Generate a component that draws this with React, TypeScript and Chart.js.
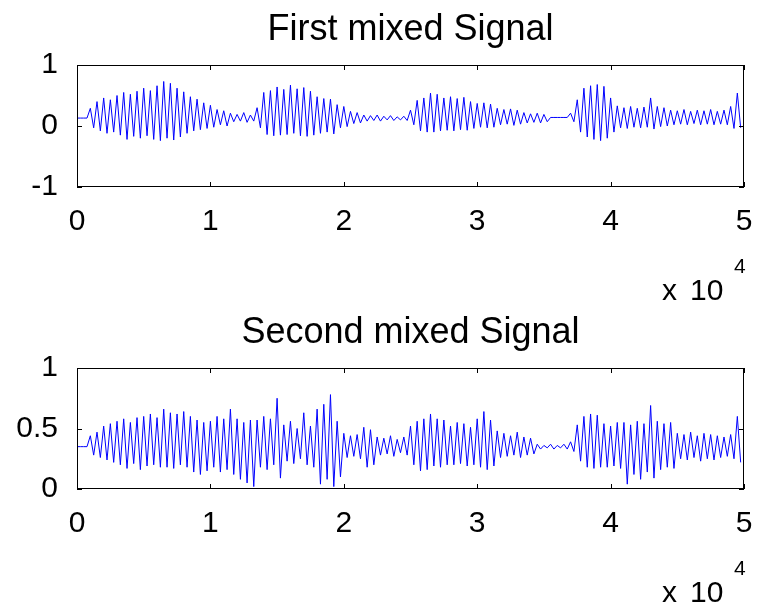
import React, { useEffect, useRef } from 'react';
import { Chart, registerables } from 'chart.js';

Chart.register(...registerables);

// ---- data ----
const sampleStep = 500; // samples between successive envelope readings
const xTickValues = [0, 10000, 20000, 30000, 40000, 50000];
const xExponentBase = 'x';
const xExponentTen = '10';
const xExponent = '4';

const title1 = 'First mixed Signal';
const y1Ticks = [-1, 0, 1];
const sig1High = [
  0.13, 0.13, 0.29, 0.40, 0.46, 0.43, 0.50, 0.55, 0.52, 0.57,
  0.62, 0.58, 0.66, 0.73, 0.70, 0.62, 0.56, 0.48, 0.44, 0.38,
  0.34, 0.27, 0.25, 0.21, 0.19, 0.22, 0.18, 0.30, 0.55, 0.58,
  0.64, 0.60, 0.67, 0.61, 0.63, 0.57, 0.48, 0.45, 0.44, 0.35,
  0.32, 0.24, 0.22, 0.18, 0.17, 0.18, 0.16, 0.17, 0.15, 0.16,
  0.26, 0.42, 0.46, 0.54, 0.52, 0.46, 0.48, 0.45, 0.47, 0.40,
  0.37, 0.38, 0.36, 0.29, 0.27, 0.28, 0.26, 0.22, 0.20, 0.21,
  0.19, 0.14, 0.14, 0.14, 0.21, 0.43, 0.62, 0.66, 0.68, 0.65,
  0.46, 0.33, 0.30, 0.32, 0.29, 0.31, 0.46, 0.32, 0.30, 0.26,
  0.25, 0.27, 0.24, 0.26, 0.25, 0.27, 0.24, 0.26, 0.32, 0.54,
];
const sig1Low = [
  0.13, 0.13, -0.03, -0.08, -0.12, -0.10, -0.15, -0.22, -0.17, -0.20,
  -0.16, -0.22, -0.24, -0.20, -0.23, -0.18, -0.12, -0.08, -0.06, -0.04,
  -0.02, 0.02, 0.00, 0.07, 0.08, 0.06, 0.08, -0.03, -0.14, -0.16,
  -0.15, -0.14, -0.12, -0.16, -0.17, -0.15, -0.12, -0.10, -0.13, -0.03,
  -0.01, 0.04, 0.05, 0.08, 0.09, 0.08, 0.10, 0.09, 0.10, 0.09,
  0.02, -0.08, -0.10, -0.10, -0.08, -0.07, -0.08, -0.06, -0.07, -0.04,
  -0.02, -0.03, -0.02, 0.02, 0.03, 0.01, 0.03, 0.05, 0.06, 0.05,
  0.07, 0.14, 0.14, 0.14, 0.07, -0.10, -0.18, -0.22, -0.24, -0.20,
  -0.10, -0.03, -0.04, -0.02, -0.03, -0.02, -0.05, -0.01, 0.00, 0.02,
  0.03, 0.02, 0.04, 0.02, 0.03, 0.02, 0.03, 0.02, -0.04, -0.03,
];

const title2 = 'Second mixed Signal';
const y2Ticks = [0, 0.5, 1];
const sig2High = [
  0.35, 0.35, 0.44, 0.47, 0.52, 0.54, 0.56, 0.58, 0.55, 0.59,
  0.60, 0.62, 0.59, 0.66, 0.63, 0.62, 0.64, 0.60, 0.57, 0.55,
  0.56, 0.60, 0.58, 0.66, 0.58, 0.55, 0.57, 0.57, 0.60, 0.58,
  0.75, 0.53, 0.56, 0.50, 0.63, 0.52, 0.66, 0.70, 0.78, 0.56,
  0.46, 0.44, 0.45, 0.51, 0.49, 0.43, 0.42, 0.44, 0.41, 0.43,
  0.52, 0.56, 0.58, 0.62, 0.58, 0.57, 0.52, 0.55, 0.54, 0.51,
  0.58, 0.64, 0.57, 0.48, 0.46, 0.44, 0.47, 0.43, 0.42, 0.37,
  0.36, 0.37, 0.36, 0.37, 0.39, 0.53, 0.60, 0.62, 0.61, 0.54,
  0.52, 0.55, 0.55, 0.53, 0.56, 0.54, 0.69, 0.56, 0.54, 0.55,
  0.46, 0.45, 0.47, 0.44, 0.46, 0.45, 0.44, 0.43, 0.45, 0.60,
];
const sig2Low = [
  0.35, 0.35, 0.28, 0.26, 0.24, 0.22, 0.20, 0.17, 0.21, 0.16,
  0.19, 0.20, 0.18, 0.18, 0.17, 0.20, 0.18, 0.14, 0.12, 0.15,
  0.18, 0.14, 0.16, 0.12, 0.08, 0.05, 0.02, 0.18, 0.16, 0.20,
  0.09, 0.23, 0.21, 0.25, 0.20, 0.18, 0.04, 0.08, 0.02, 0.10,
  0.26, 0.27, 0.25, 0.18, 0.20, 0.28, 0.29, 0.27, 0.30, 0.28,
  0.20, 0.15, 0.16, 0.19, 0.18, 0.20, 0.20, 0.21, 0.19, 0.20,
  0.18, 0.16, 0.19, 0.26, 0.27, 0.28, 0.26, 0.28, 0.29, 0.33,
  0.34, 0.33, 0.34, 0.33, 0.31, 0.23, 0.18, 0.17, 0.18, 0.18,
  0.19, 0.17, 0.04, 0.12, 0.08, 0.14, 0.09, 0.16, 0.18, 0.17,
  0.25, 0.24, 0.26, 0.23, 0.25, 0.24, 0.26, 0.27, 0.25, 0.22,
];

// ---- helpers ----
const FONT = '"Liberation Sans", Arial, Helvetica, sans-serif';

function buildPoints(high: number[], low: number[]) {
  const pts: { x: number; y: number }[] = [];
  for (let i = 0; i < high.length; i++) {
    pts.push({ x: i * sampleStep, y: high[i] });
    pts.push({ x: i * sampleStep + sampleStep / 2, y: low[i] });
  }
  return pts;
}

const matlabAxes = {
  id: 'matlabAxes',
  afterDatasetsDraw(chart: any, _args: any, opts: any) {
    const { ctx, chartArea: a, scales } = chart;
    const L = 5;
    ctx.save();
    ctx.strokeStyle = '#000';
    ctx.lineWidth = 1;
    ctx.strokeRect(Math.round(a.left) + 0.5, Math.round(a.top) + 0.5, Math.round(a.width) - 1, Math.round(a.height) - 1);
    ctx.beginPath();
    for (const v of xTickValues) {
      const px = Math.round(scales.x.getPixelForValue(v)) + 0.5;
      ctx.moveTo(px, a.bottom);
      ctx.lineTo(px, a.bottom - L);
      ctx.moveTo(px, a.top);
      ctx.lineTo(px, a.top + L);
    }
    for (const t of scales.y.ticks) {
      const py = Math.round(scales.y.getPixelForValue(t.value)) + 0.5;
      ctx.moveTo(a.left, py);
      ctx.lineTo(a.left + L, py);
      ctx.moveTo(a.right, py);
      ctx.lineTo(a.right - L, py);
    }
    ctx.stroke();

    ctx.fillStyle = '#000';
    ctx.textBaseline = 'alphabetic';
    // title
    ctx.textAlign = 'center';
    ctx.font = `36px ${FONT}`;
    ctx.fillText(opts.text, (a.left + a.right) / 2, a.top - 25);
    // exponent label
    ctx.textAlign = 'left';
    ctx.font = `30px ${FONT}`;
    const base = a.bottom + 113;
    ctx.fillText(xExponentBase, 662, base);
    ctx.fillText(xExponentTen, 690, base);
    ctx.font = `21px ${FONT}`;
    ctx.fillText(xExponent, 734, base - 27);
    ctx.restore();
  },
};

type Props = {
  title: string;
  high: number[];
  low: number[];
  yTicks: number[];
  top: number;
  height: number;
  areaTop: number;
  areaBottom: number;
};

function SignalPlot({ title, high, low, yTicks, top, height, areaTop, areaBottom }: Props) {
  const ref = useRef<HTMLCanvasElement>(null);
  useEffect(() => {
    if (!ref.current) return;
    const chart = new Chart(ref.current, {
      type: 'line',
      data: {
        datasets: [
          {
            data: buildPoints(high, low),
            borderColor: '#0000ff',
            borderWidth: 1,
            pointRadius: 0,
            tension: 0,
            fill: false,
          },
        ],
      },
      options: {
        animation: false,
        responsive: false,
        devicePixelRatio: 1,
        layout: { padding: { left: 0, right: 18, top: areaTop, bottom: 0 } },
        scales: {
          x: {
            type: 'linear',
            min: 0,
            max: 50000,
            afterBuildTicks: (s: any) => {
              s.ticks = xTickValues.map((v) => ({ value: v }));
            },
            afterFit: (s: any) => {
              s.height = height - areaBottom;
            },
            ticks: {
              callback: (v: any) => String(Number(v) / 10000),
              color: '#000',
              font: { family: FONT, size: 30 },
              padding: 9,
              maxRotation: 0,
              autoSkip: false,
            },
            grid: { display: false },
            border: { display: false },
          },
          y: {
            min: yTicks[0],
            max: yTicks[yTicks.length - 1],
            afterBuildTicks: (s: any) => {
              s.ticks = yTicks.map((v) => ({ value: v }));
            },
            afterFit: (s: any) => {
              s.width = 77;
            },
            ticks: {
              callback: (v: any) => String(v),
              color: '#000',
              font: { family: FONT, size: 30 },
              padding: 11,
              autoSkip: false,
            },
            grid: { display: false },
            border: { display: false },
          },
        },
        plugins: {
          legend: { display: false },
          tooltip: { enabled: false },
          title: { display: false },
          matlabAxes: { text: title },
        } as any,
      },
      plugins: [matlabAxes],
    });
    return () => chart.destroy();
  }, []);
  return (
    <canvas
      ref={ref}
      width={762}
      height={height}
      style={{ position: 'absolute', left: 0, top, width: 762, height }}
    />
  );
}

export default function App() {
  return (
    <div style={{ position: 'absolute', left: 0, top: 0, width: 762, height: 609, background: '#fff', overflow: 'hidden' }}>
      <SignalPlot title={title1} high={sig1High} low={sig1Low} yTicks={y1Ticks} top={0} height={305} areaTop={65} areaBottom={187} />
      <SignalPlot title={title2} high={sig2High} low={sig2Low} yTicks={y2Ticks} top={305} height={304} areaTop={63} areaBottom={184} />
    </div>
  );
}
